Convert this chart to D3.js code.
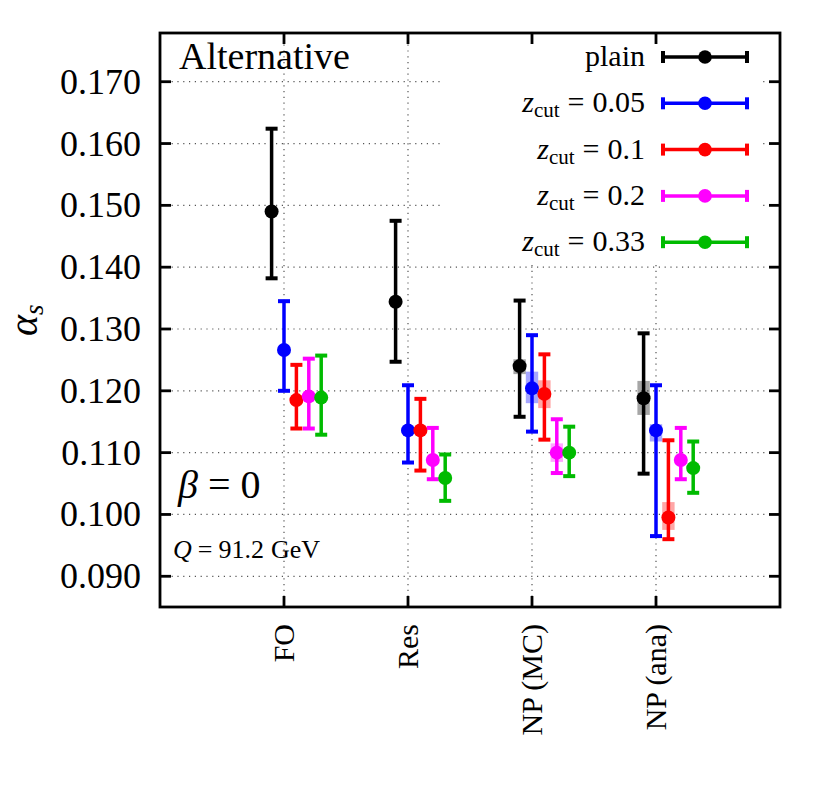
<!DOCTYPE html>
<html><head><meta charset="utf-8">
<script src="https://cdn.jsdelivr.net/npm/d3@7/dist/d3.min.js"></script>
<style>
body{margin:0;background:#fff;}
text{font-family:"Liberation Serif","DejaVu Serif",serif;fill:#000;}
</style></head>
<body><svg id="chart" width="830" height="807"></svg>
<script>
// ---- data ----
const categories = ["FO", "Res", "NP (MC)", "NP (ana)"];
const yTicks = [0.090, 0.100, 0.110, 0.120, 0.130, 0.140, 0.150, 0.160, 0.170];
const seriesLabels = ["plain", "0.05", "0.1", "0.2", "0.33"];
const seriesColors = ["#000000", "#0000ff", "#ff0000", "#ff00ff", "#00bb00"];

const plainCenter = [0.1490, 0.1344, 0.1240, 0.1188];
const plainLo     = [0.1382, 0.1247, 0.1158, 0.1066];
const plainHi     = [0.1624, 0.1475, 0.1346, 0.1293];
const plainBandLo = [null, null, 0.1227, 0.1161];
const plainBandHi = [null, null, 0.1251, 0.1216];

const z005Center = [0.1266, 0.1136, 0.1204, 0.1136];
const z005Lo     = [0.1200, 0.1084, 0.1134, 0.0965];
const z005Hi     = [0.1345, 0.1209, 0.1290, 0.1209];
const z005BandLo = [null, null, 0.1180, 0.1118];
const z005BandHi = [null, null, 0.1231, 0.1146];

const z01Center = [0.1185, 0.1136, 0.1195, 0.0995];
const z01Lo     = [0.1139, 0.1071, 0.1121, 0.0960];
const z01Hi     = [0.1242, 0.1187, 0.1259, 0.1120];
const z01BandLo = [null, null, 0.1172, 0.0975];
const z01BandHi = [null, null, 0.1217, 0.1020];

const z02Center = [0.1191, 0.1088, 0.1100, 0.1088];
const z02Lo     = [0.1139, 0.1057, 0.1067, 0.1057];
const z02Hi     = [0.1252, 0.1140, 0.1154, 0.1140];
const z02BandLo = [null, null, 0.1085, null];
const z02BandHi = [null, null, 0.1115, null];

const z033Center = [0.1189, 0.1059, 0.1100, 0.1075];
const z033Lo     = [0.1129, 0.1022, 0.1062, 0.1035];
const z033Hi     = [0.1257, 0.1097, 0.1142, 0.1118];
const z033BandLo = [null, null, null, null];
const z033BandHi = [null, null, null, null];

const series = [
  {center: plainCenter, lo: plainLo, hi: plainHi, bLo: plainBandLo, bHi: plainBandHi},
  {center: z005Center, lo: z005Lo, hi: z005Hi, bLo: z005BandLo, bHi: z005BandHi},
  {center: z01Center, lo: z01Lo, hi: z01Hi, bLo: z01BandLo, bHi: z01BandHi},
  {center: z02Center, lo: z02Lo, hi: z02Hi, bLo: z02BandLo, bHi: z02BandHi},
  {center: z033Center, lo: z033Lo, hi: z033Hi, bLo: z033BandLo, bHi: z033BandHi}
];

// ---- layout ----
const svg = d3.select("#chart");
const L = 160, R = 780, T = 33, B = 607;
const x = d3.scaleLinear().domain([0, 5]).range([L, R]);
const y = d3.scaleLinear().domain([0.08503, 0.17788]).range([B, T]);
const catX = i => x(i + 1);
const offX = (c, s) => x(c + 1 + (s - 1) * 0.1);

// grid
const grid = svg.append("g").attr("stroke", "#555").attr("stroke-width", 1.2).attr("stroke-dasharray", "1.2,4.6");
grid.selectAll(".hg").data(yTicks).join("line")
  .attr("x1", L).attr("x2", R).attr("y1", d => y(d)).attr("y2", d => y(d));
grid.selectAll(".vg").data(categories).join("line")
  .attr("x1", (d, i) => catX(i)).attr("x2", (d, i) => catX(i)).attr("y1", T).attr("y2", B);

// legend background
svg.append("rect").attr("x", 440).attr("y", 36).attr("width", 320).attr("height", 226).attr("fill", "#fff");

// bands
series.forEach((s, si) => {
  const g = svg.append("g");
  categories.forEach((c, ci) => {
    if (s.bLo[ci] == null) return;
    g.append("rect")
      .attr("x", offX(ci, si) - (x(0.05) - x(0)))
      .attr("width", 2 * (x(0.05) - x(0)))
      .attr("y", y(s.bHi[ci]))
      .attr("height", y(s.bLo[ci]) - y(s.bHi[ci]))
      .attr("fill", seriesColors[si]).attr("opacity", 0.35);
  });
});

// error bars
const capW = 6;
series.forEach((s, si) => {
  const g = svg.append("g").attr("stroke", seriesColors[si]).attr("stroke-width", 3.5);
  categories.forEach((c, ci) => {
    const cx = offX(ci, si);
    g.append("line").attr("x1", cx).attr("x2", cx).attr("y1", y(s.lo[ci])).attr("y2", y(s.hi[ci]));
    g.append("line").attr("x1", cx - capW).attr("x2", cx + capW).attr("y1", y(s.lo[ci])).attr("y2", y(s.lo[ci])).attr("stroke-width", 4);
    g.append("line").attr("x1", cx - capW).attr("x2", cx + capW).attr("y1", y(s.hi[ci])).attr("y2", y(s.hi[ci])).attr("stroke-width", 4);
  });
  svg.append("g").selectAll("circle").data(s.center).join("circle")
    .attr("cx", (d, ci) => offX(ci, si)).attr("cy", d => y(d)).attr("r", 7)
    .attr("fill", seriesColors[si]);
});

// frame
svg.append("rect").attr("x", L).attr("y", T).attr("width", R - L).attr("height", B - T)
  .attr("fill", "none").attr("stroke", "#000").attr("stroke-width", 2.8);
const ticks = svg.append("g").attr("stroke", "#000").attr("stroke-width", 2.8);
const tl = 11;
yTicks.forEach(v => {
  ticks.append("line").attr("x1", L).attr("x2", L + tl).attr("y1", y(v)).attr("y2", y(v));
  ticks.append("line").attr("x1", R - tl).attr("x2", R).attr("y1", y(v)).attr("y2", y(v));
});
categories.forEach((c, i) => {
  ticks.append("line").attr("x1", catX(i)).attr("x2", catX(i)).attr("y1", B).attr("y2", B - tl);
  ticks.append("line").attr("x1", catX(i)).attr("x2", catX(i)).attr("y1", T).attr("y2", T + tl);
});

// y tick labels
svg.append("g").selectAll("text").data(yTicks).join("text")
  .attr("x", 141).attr("y", d => y(d) + 12).attr("text-anchor", "end")
  .attr("font-size", 36).text(d => d3.format(".3f")(d));

// x labels
svg.append("g").selectAll("text").data(categories).join("text")
  .attr("transform", (d, i) => `translate(${catX(i) + 10},624) rotate(-90)`)
  .attr("text-anchor", "end").attr("font-size", 30).text(d => d);

// y axis label
const yl = svg.append("text").attr("transform", "translate(37,336) rotate(-90)")
  .attr("font-size", 40);
yl.append("tspan").attr("font-style", "italic").text("α");
yl.append("tspan").attr("font-style", "italic").attr("font-size", 27).attr("dy", 6).text("s");

// annotations
svg.append("text").attr("x", 179).attr("y", 69).attr("font-size", 38).text("Alternative");
const beta = svg.append("text").attr("x", 178).attr("y", 498).attr("font-size", 40);
beta.append("tspan").attr("font-style", "italic").text("β");
beta.append("tspan").attr("dx", 10).text("=");
beta.append("tspan").attr("dx", 10).text("0");
const q = svg.append("text").attr("x", 173).attr("y", 558).attr("font-size", 26);
q.append("tspan").attr("font-style", "italic").text("Q");
q.append("tspan").attr("dx", 6).text("=");
q.append("tspan").attr("dx", 6).text("91.2");
q.append("tspan").attr("dx", 7).text("GeV");

// legend
const legY0 = 57, legDY = 46.3;
seriesLabels.forEach((lab, i) => {
  const yy = legY0 + i * legDY;
  const t = svg.append("text").attr("x", 645).attr("y", yy + 9).attr("text-anchor", "end").attr("font-size", 30);
  if (i === 0) {
    t.text(lab);
  } else {
    t.append("tspan").attr("font-style", "italic").text("z");
    t.append("tspan").attr("font-size", 21).attr("dy", 5).text("cut");
    t.append("tspan").attr("dy", -5).attr("dx", 8).text("=");
    t.append("tspan").attr("dx", 8).text(lab);
  }
  const g = svg.append("g").attr("stroke", seriesColors[i]).attr("stroke-width", 3.5);
  g.append("line").attr("x1", 663).attr("x2", 747).attr("y1", yy).attr("y2", yy);
  g.append("line").attr("x1", 663).attr("x2", 663).attr("y1", yy - 6).attr("y2", yy + 6).attr("stroke-width", 4);
  g.append("line").attr("x1", 747).attr("x2", 747).attr("y1", yy - 6).attr("y2", yy + 6).attr("stroke-width", 4);
  svg.append("circle").attr("cx", 705).attr("cy", yy).attr("r", 6.8).attr("fill", seriesColors[i]);
});
</script></body></html>
